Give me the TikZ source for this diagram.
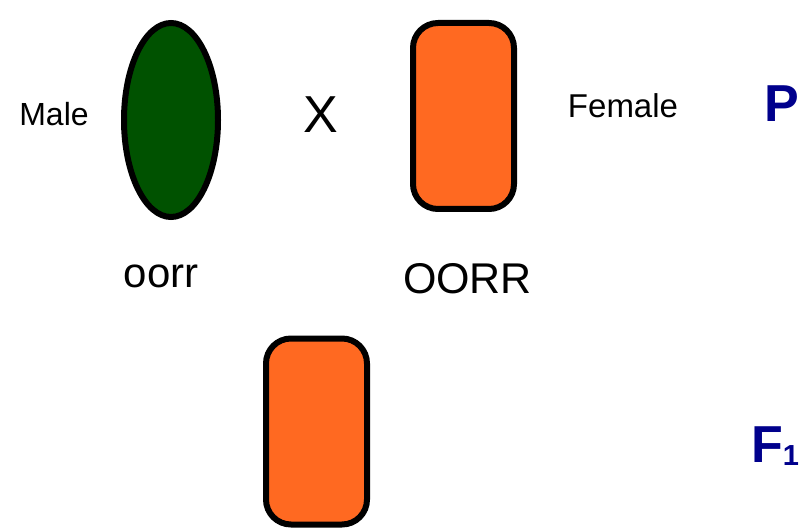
\documentclass[tikz,border=0pt]{standalone}
\usepackage{fontspec}
\setmainfont{Liberation Sans}
\usetikzlibrary{shapes.geometric}
\definecolor{pgreen}{RGB}{0,82,0}
\definecolor{porange}{RGB}{255,105,33}
\definecolor{pnavy}{RGB}{0,0,140}
\tikzset{
  plant/.style={draw=black, line width=6pt, inner sep=0pt, outer sep=0pt},
  greenpea/.style={plant, ellipse, fill=pgreen, minimum width=94pt, minimum height=194pt},
  orangepea/.style={plant, rectangle, rounded corners=25pt, fill=porange, minimum width=101pt, minimum height=186pt},
  lbl/.style={inner sep=0pt, anchor=base},
  gen/.style={font=\fontsize{33}{38}\selectfont},
  geno/.style={font=\fontsize{43}{50}\selectfont},
  stage/.style={inner sep=0pt, anchor=base west, text=pnavy, font=\fontsize{52}{60}\selectfont\bfseries}
}
\begin{document}
\begin{tikzpicture}[x=1pt,y=-1pt]
\useasboundingbox (0,0) rectangle (802,529);
\node[greenpea] (male) at (171,120) {};
\node[orangepea] (female) at (463.5,116) {};
\node[orangepea] (f1) at (316.5,431.5) {};
\node[lbl,font=\fontsize{32}{38}\selectfont] (malelbl) at (54,126) {Male};
\node[lbl,gen] (femalelbl) at (623,118) {Female};
\node[lbl,font=\fontsize{52}{60}\selectfont] (cross) at (320.5,133) {X};
\node[lbl,font=\fontsize{42}{48}\selectfont] (oorr) at (161,287) {oorr};
\node[lbl,geno] (OORR) at (467.5,293) {OORR};
\node[stage] (P) at (764,122) {P};
\node[stage] (F) at (751,462) {F\raisebox{-3pt}{\fontsize{29}{33}\selectfont 1}};
\end{tikzpicture}
\end{document}
